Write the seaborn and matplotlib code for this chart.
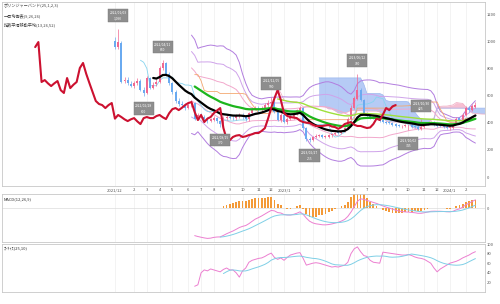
import numpy as np
import pandas as pd
import matplotlib
matplotlib.use("Agg")
import matplotlib.pyplot as plt
import seaborn as sns

# ---------------- data (weekly candles) ----------------
start_date = "2021-12-27"
close = [957, 994, 700, 714, 690, 670, 690, 707, 640, 619,
         729, 655, 680, 700, 803, 840, 760, 692, 626, 560,
         538, 530, 508, 530, 545, 430, 457, 442, 425, 412,
         425, 434, 410, 390, 434, 442, 434, 434, 449, 457,
         440, 427, 470, 500, 508, 493, 510, 530, 545, 552,
         479, 420, 457, 405, 430, 442, 470, 490, 508, 361,
         280, 272, 295, 305, 309, 295, 300, 309, 315, 324,
         324, 340, 360, 430, 510, 580, 641, 567, 471, 450,
         442, 438, 434, 415, 405, 400, 398, 385, 376, 376,
         376, 380, 383, 372, 368, 355, 368, 390, 398, 405,
         385, 376, 376, 368, 361, 365, 390, 430, 420, 460,
         508, 493, 520, 530]
open_ = [1000, 955, 990, 705, 716, 688, 668, 692, 705, 642,
         622, 726, 657, 682, 702, 800, 838, 758, 690, 628,
         562, 540, 532, 510, 528, 548, 432, 455, 444, 427,
         414, 423, 436, 412, 392, 432, 444, 436, 432, 447,
         459, 442, 425, 468, 502, 510, 491, 508, 528, 543,
         555, 481, 418, 459, 403, 428, 440, 468, 492, 510,
         363, 282, 270, 293, 303, 311, 297, 298, 307, 317,
         326, 322, 338, 362, 428, 512, 578, 643, 569, 473,
         452, 440, 436, 432, 417, 407, 402, 396, 387, 378,
         374, 378, 381, 385, 374, 370, 353, 366, 388, 400,
         407, 387, 378, 374, 370, 359, 363, 388, 432, 418,
         458, 510, 491, 518]
high = [1030, 1090, 1000, 740, 735, 705, 710, 730, 720, 660,
        745, 740, 700, 720, 820, 860, 850, 770, 700, 640,
        580, 560, 545, 545, 565, 555, 470, 468, 455, 440,
        438, 448, 445, 420, 446, 455, 455, 448, 462, 470,
        468, 452, 482, 515, 525, 520, 522, 545, 565, 590,
        565, 490, 470, 465, 442, 455, 482, 502, 520, 515,
        372, 292, 305, 316, 320, 320, 310, 318, 325, 334,
        336, 350, 372, 445, 530, 600, 760, 655, 575, 482,
        462, 450, 446, 442, 425, 416, 412, 406, 396, 388,
        386, 390, 394, 395, 384, 380, 425, 400, 408, 416,
        415, 396, 388, 384, 380, 375, 400, 442, 445, 472,
        520, 522, 535, 552]
low = [945, 945, 690, 695, 680, 660, 655, 680, 630, 600,
       612, 645, 645, 668, 690, 790, 745, 680, 615, 548,
       525, 518, 495, 498, 515, 418, 420, 432, 415, 400,
       402, 412, 400, 370, 382, 420, 425, 422, 422, 438,
       430, 415, 415, 458, 492, 482, 480, 498, 518, 532,
       470, 410, 408, 395, 392, 418, 430, 460, 482, 350,
       268, 255, 262, 285, 295, 286, 288, 290, 298, 308,
       315, 315, 330, 352, 420, 500, 565, 558, 462, 440,
       430, 428, 425, 405, 395, 390, 388, 378, 368, 366,
       364, 368, 345, 362, 358, 350, 348, 358, 380, 390,
       375, 366, 366, 358, 352, 350, 356, 380, 410, 410,
       450, 480, 485, 512]

# lower-panel oscillator (25), first value at week 25
osc_start = 25
osc = [12, 15, 40, 46, 44, 48, 46, 44, 42, 47,
       50, 46, 46, 40, 31, 44, 50, 62, 66, 68,
       70, 71, 74, 78, 81, 72, 68, 71, 66, 72,
       77, 79, 81, 82, 70, 56, 58, 60, 61, 60,
       58, 56, 54, 52, 53, 52, 54, 56, 62, 80,
       90, 94, 84, 76, 74, 66, 62, 61, 60, 83,
       82, 81, 80, 79, 78, 77, 77, 78, 76, 73,
       71, 70, 68, 64, 60, 50, 42, 48, 52, 56,
       60, 62, 64, 67, 71, 74, 77, 81, 84]

ann_high_idx = [1, 15, 49, 76, 96]
ann_low_idx = [9, 33, 61, 92]

price_ticks = [0, 200, 400, 600, 800, 1000, 1200]
stoch_ticks = [20, 40, 60, 80, 100]

legend_lines = ["ボリンジャーバンド(25,1,2,3)", "一目均衡表(9,26,26)", "指数平滑移動平均(13,26,52)"]
macd_title = "MACD(12,26,9)"
stoch_title = "ｽﾄｷｬｽ(25,10)"

# ---------------- style ----------------
sns.set_theme(style="white")
plt.rcParams['font.family'] = ['Noto Sans CJK JP', 'DejaVu Sans']

n = len(close)
idx = np.arange(n)
dates = pd.date_range(start_date, periods=n, freq="7D")
df = pd.DataFrame({"open": open_, "high": high, "low": low, "close": close}, index=idx, dtype=float)

# ---------------- indicators ----------------
LAG = 25
mid25 = df.close.rolling(25).mean()
sd25 = df.close.rolling(25).std(ddof=0)
tenkan = (df.high.rolling(9).max() + df.low.rolling(9).min()) / 2
kijun = (df.high.rolling(26).max() + df.low.rolling(26).min()) / 2
spanA = (tenkan + kijun) / 2
spanB = (df.high.rolling(52, min_periods=40).max() + df.low.rolling(52, min_periods=40).min()) / 2
ema13 = df.close.ewm(span=13, adjust=False, min_periods=13).mean()
ema26 = df.close.ewm(span=26, adjust=False, min_periods=26).mean()
ema52 = df.close.ewm(span=52, adjust=False, min_periods=52).mean()
ema12m = df.close.ewm(span=12, adjust=False, min_periods=12).mean()
macd = ema12m - ema26
signal = macd.ewm(span=9, adjust=False, min_periods=9).mean()
hist = macd - signal
osc_s = pd.Series(osc, index=np.arange(osc_start, osc_start + len(osc)), dtype=float)
osc_sig = osc_s.rolling(10).mean()

# ---------------- figure ----------------
W, H = 500, 304
fig = plt.figure(figsize=(W / 100, H / 100), dpi=100)


def rect(x0, y0, x1, y1):
    return [x0 / W, 1 - y1 / H, (x1 - x0) / W, (y1 - y0) / H]


ax = fig.add_axes(rect(2, 2, 485, 186))
axm = fig.add_axes(rect(2, 194, 485, 242))
axs = fig.add_axes(rect(2, 244, 485, 292))

XL = (-35.4, 116)

# month ticks
month_pos, month_lab = [0], ["2021/12"]
for m in pd.date_range("2022-02-01", "2024-02-01", freq="MS"):
    k = int(np.searchsorted(dates.values, np.datetime64(m)))
    month_pos.append(k)
    month_lab.append(f"{m.year}/1" if m.month == 1 else str(m.month))

for a in (ax, axm, axs):
    a.set_xlim(*XL)
    a.set_facecolor("white")
    for x in month_pos:
        a.axvline(x, color="#efefef", lw=0.5, zorder=0)
    for s in a.spines.values():
        s.set_color("#c8c8c8")
        s.set_linewidth(0.6)
    a.yaxis.tick_right()
    a.tick_params(axis="both", labelsize=3, length=0, pad=1.5, colors="#555555")

# ---- main panel ----
ax.set_ylim(-66, 1289)
xf = idx + LAG
bB = spanB.values
bA = spanA.values
ax.fill_between(xf, bA, bB, where=bB >= bA, interpolate=True, color="#8fb0f0", alpha=0.65, lw=0, zorder=1)
ax.fill_between(xf, bA, bB, where=bA > bB, interpolate=True, color="#f5aac4", alpha=0.75, lw=0, zorder=1)
sns.lineplot(x=xf, y=bA, ax=ax, color="#f0a8c0", lw=0.5, zorder=2)
sns.lineplot(x=xf, y=bB, ax=ax, color="#9db8ee", lw=0.5, zorder=2)

for k, c in [(3, "#b27ddf"), (2, "#cfa3ea"), (1, "#f2a8cc")]:
    sns.lineplot(x=idx, y=mid25 + k * sd25, ax=ax, color=c, lw=0.7, zorder=2)
    sns.lineplot(x=idx, y=mid25 - k * sd25, ax=ax, color=c, lw=0.7, zorder=2)
sns.lineplot(x=idx, y=tenkan, ax=ax, color="#86d4ef", lw=0.6, zorder=2)
sns.lineplot(x=idx, y=kijun, ax=ax, color="#f4a870", lw=0.6, zorder=2)

# candles
o = df.open.values
c = df.close.values
up = c >= o
col = np.where(up, "#f06890", "#6aaaf0")
ax.vlines(idx, df.low, df.high, colors=col, lw=0.5, zorder=3)
body = np.maximum(np.abs(c - o), 4)
ax.bar(idx, body, bottom=np.minimum(o, c), width=0.62, color=col, lw=0, zorder=3)

sns.lineplot(x=idx, y=ema52, ax=ax, color="#9ee03a", lw=1.0, zorder=4)
sns.lineplot(x=idx, y=ema26, ax=ax, color="#1db51d", lw=1.6, zorder=4)
sns.lineplot(x=idx, y=ema13, ax=ax, color="black", lw=1.6, zorder=5)
sns.lineplot(x=idx - LAG, y=df.close, ax=ax, color="#cc1130", lw=1.5, zorder=6)

box = dict(boxstyle="square,pad=0.45", fc="#8e8e8e", ec="#777777", lw=0.3)
for i in ann_high_idx:
    ax.annotate(f"{dates[i]:%Y/%m/%d}\n{int(high[i]):,}", (i, high[i]), xytext=(0, 6),
                textcoords="offset points", ha="center", va="bottom", fontsize=2.4,
                color="white", bbox=box, zorder=7, linespacing=1.6)
for i in ann_low_idx:
    ax.annotate(f"{dates[i]:%Y/%m/%d}\n{int(low[i]):,}", (i, low[i]), xytext=(0, -6),
                textcoords="offset points", ha="center", va="top", fontsize=2.4,
                color="white", bbox=box, zorder=7, linespacing=1.6)

ax.set_yticks(price_ticks)
ax.set_yticklabels([str(v) for v in price_ticks])
ax.set_xticks(month_pos)
ax.set_xticklabels(month_lab)
ax.set_xlabel("")
ax.set_ylabel("")
for j, t in enumerate(legend_lines):
    fig.text(4 / W, 1 - (6 + 9.5 * j) / H, t, fontsize=3, color="#444444", va="center", ha="left")

# ---- MACD panel ----
mn = np.nanmin(macd.values)
lo = mn * 1.12
hi = -lo * 0.30 / 0.70
axm.set_ylim(lo, hi)
axm.axhline(0, color="#dcdcdc", lw=0.5, zorder=1)
axm.bar(idx, hist * 1.6, width=0.55, color="#f39a38", lw=0, zorder=2)
sns.lineplot(x=idx, y=macd, ax=axm, color="#ec7fd0", lw=0.7, zorder=3)
sns.lineplot(x=idx, y=signal, ax=axm, color="#7fcfe6", lw=0.7, zorder=3)
axm.set_yticks([0])
axm.set_yticklabels(["0"])
axm.set_xticks([])
axm.set_xlabel("")
axm.set_ylabel("")
axm.text(0.004, 0.93, macd_title, transform=axm.transAxes, fontsize=3, color="#333333", va="top")

# ---- oscillator panel ----
axs.set_ylim(0, 100)
sns.lineplot(x=osc_s.index, y=osc_s.values, ax=axs, color="#ec7fd0", lw=0.7)
sns.lineplot(x=osc_sig.index, y=osc_sig.values, ax=axs, color="#7fcfe6", lw=0.7)
axs.set_yticks(stoch_ticks)
axs.set_yticklabels([str(v) for v in stoch_ticks])
axs.set_xticks([])
axs.set_xlabel("")
axs.set_ylabel("")
axs.text(0.004, 0.95, stoch_title, transform=axs.transAxes, fontsize=3, color="#333333", va="top")

fig.savefig("out.png", dpi=100)
